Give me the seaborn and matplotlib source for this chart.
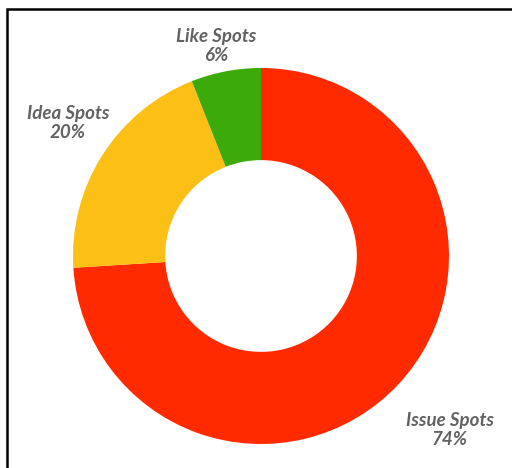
import matplotlib
matplotlib.use("Agg")
import matplotlib.pyplot as plt
import seaborn as sns
from matplotlib.patches import Rectangle

categories = ["Issue Spots", "Idea Spots", "Like Spots"]
values = [74, 20, 6]
colors = ["#FF2A00", "#FBBF16", "#3DAA0C"]

sns.set_theme(style="white")
plt.rcParams['font.family'] = ['Lato', 'DejaVu Sans']

W, H = 512, 468
fig = plt.figure(figsize=(W / 100, H / 100), dpi=100)
ax = fig.add_axes([0, 0, 1, 1])

cx, cy, R = 261, H - 256, 188
ax.pie(values, colors=colors, startangle=90, counterclock=False,
       center=(cx, cy), radius=R,
       wedgeprops=dict(width=R * 0.49, edgecolor="none", linewidth=0))
ax.set_xlim(0, W)
ax.set_ylim(0, H)
ax.set_aspect("equal")
ax.axis("off")

label_pos = {"Issue Spots": (450, 430), "Idea Spots": (68, 123), "Like Spots": (216, 46)}
for cat, v in zip(categories, values):
    x, y = label_pos[cat]
    ax.text(x, H - y, f"{cat}\n{v}%", ha="center", va="center", fontsize=13.5,
            style="italic", fontweight="bold", color="#626262", linespacing=1.2)

# outer frame: only left and top edges fall inside the canvas
fig.add_artist(Rectangle((7 / W, -0.2), 1.5, 1.2 - 9 / H, transform=fig.transFigure,
                         facecolor="none", edgecolor="black", linewidth=1.8,
                         clip_on=False))

fig.savefig("out.png", dpi=100)
